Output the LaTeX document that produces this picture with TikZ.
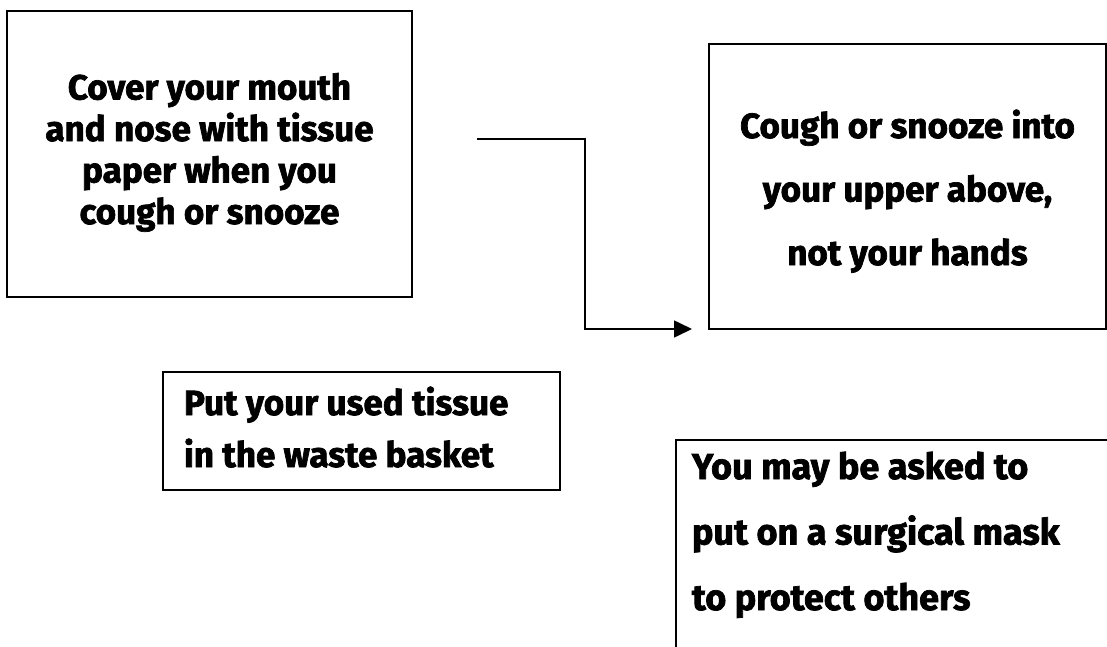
\documentclass[tikz,border=0pt]{standalone}
\usepackage{fontspec}
\newfontfamily\boxfont{Fira Sans}[BoldFeatures={FakeBold=2}]
\usetikzlibrary{arrows.meta}
\tikzset{
  box/.style={draw=black, line width=1.6pt, rectangle, inner sep=0pt, outer sep=0pt, anchor=north west},
  txt/.style={inner sep=0pt, outer sep=0pt, anchor=base, text=black},
  flow/.style={draw=black, line width=1.6pt, -{Triangle[length=18pt,width=17pt]}}
}
\begin{document}
\begin{tikzpicture}[x=1pt,y=-1pt]
\useasboundingbox (0,0) rectangle (1107,647);
% boxes
\node[box, minimum width=405pt, minimum height=286pt] (b1) at (7,11) {};
\node[box, minimum width=397pt, minimum height=285pt] (b2) at (709,44) {};
\node[box, minimum width=397pt, minimum height=118pt] (b3) at (163,372) {};
\node[box, minimum width=480pt, minimum height=300pt] (b4) at (676,440) {};
% texts (anchored at the baseline of their last line)
\node[txt, align=center, font=\boxfont\bfseries\fontsize{35}{41.5}\selectfont] (t1) at (209.5,224)
  {Cover your mouth\\and nose with tissue\\paper when you\\cough or snooze};
\node[txt, align=center, font=\boxfont\bfseries\fontsize{35}{63.5}\selectfont] (t2) at (907.5,265)
  {Cough or snooze into\\your upper above,\\not your hands};
\node[txt, anchor=base west, align=left, font=\boxfont\bfseries\fontsize{35}{52}\selectfont] (t3) at (184,467)
  {Put your used tissue\\in the waste basket};
\node[txt, anchor=base west, align=left, font=\boxfont\bfseries\fontsize{36}{65.5}\selectfont] (t4) at (692,610)
  {You may be asked to\\put on a surgical mask\\to protect others};
% connector
\coordinate (a0) at (477,139);
\coordinate (a1) at ([xshift=-17pt]b2.south west);
\draw[flow] (a0) -- (585,139) |- (a1);
\end{tikzpicture}
\end{document}
